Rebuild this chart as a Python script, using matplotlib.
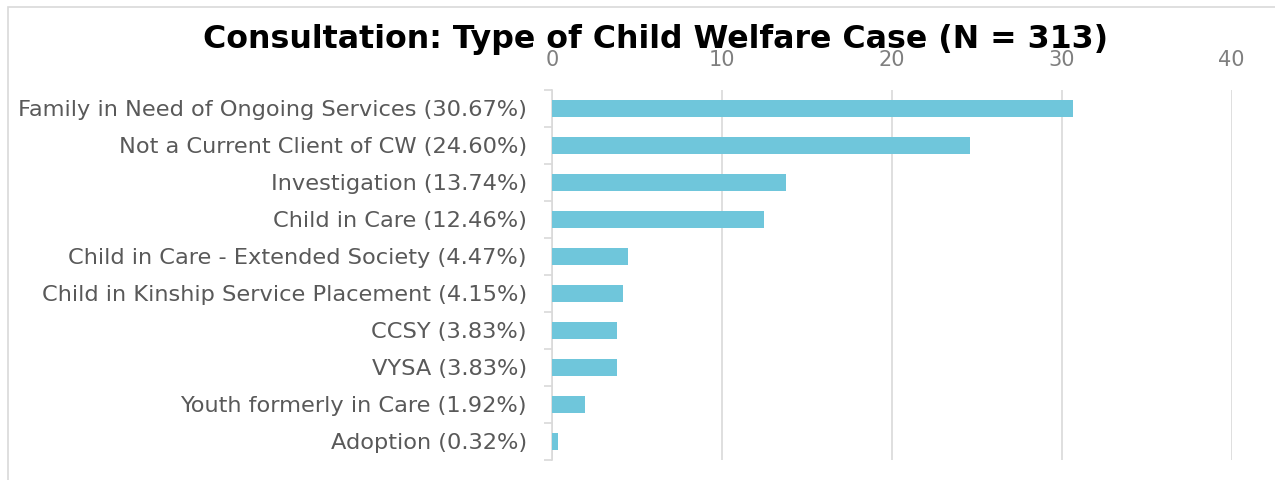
import numpy as np
import matplotlib.pyplot as plt
from matplotlib.patches import Rectangle

categories = [
    "Family in Need of Ongoing Services (30.67%)",
    "Not a Current Client of CW (24.60%)",
    "Investigation (13.74%)",
    "Child in Care (12.46%)",
    "Child in Care - Extended Society (4.47%)",
    "Child in Kinship Service Placement (4.15%)",
    "CCSY (3.83%)",
    "VYSA (3.83%)",
    "Youth formerly in Care (1.92%)",
    "Adoption (0.32%)",
]
values = [30.67, 24.60, 13.74, 12.46, 4.47, 4.15, 3.83, 3.83, 1.92, 0.32]
xticks = [0, 10, 20, 30, 40]

plt.rcParams['font.family'] = ['DejaVu Sans']

fig = plt.figure(figsize=(12.75, 4.8), dpi=100)
ax = fig.add_axes([0.433, 0.042, 0.533, 0.771])

# chart frame
fig.patches.append(Rectangle((0.006, -0.05), 1.1, 1.035, transform=fig.transFigure,
                             fill=False, edgecolor='#d9d9d9', linewidth=1.2))

y = np.arange(len(categories))
ax.barh(y, values, height=0.45, color='#6FC6DB', zorder=3)

ax.set_ylim(len(categories) - 0.5, -0.5)
ax.set_xlim(0, 40)
ax.set_xticks(xticks)
ax.xaxis.tick_top()
ax.tick_params(axis='x', length=0, labelsize=15, labelcolor='#7f7f7f', pad=14)
ax.grid(axis='x', color='#d9d9d9', linewidth=1.2, zorder=0)

ax.set_yticks(y)
ax.set_yticklabels(categories)
ax.set_yticks(np.arange(-0.5, len(categories), 1), minor=True)
ax.tick_params(axis='y', which='major', length=0, labelsize=16.2, labelcolor='#595959', pad=18)
ax.tick_params(axis='y', which='minor', length=6, color='#d9d9d9', width=1.2)

for s in ['top', 'right', 'bottom']:
    ax.spines[s].set_visible(False)
ax.spines['left'].set_color('#d9d9d9')
ax.spines['left'].set_linewidth(1.2)

fig.text(0.514, 0.918, "Consultation: Type of Child Welfare Case (N = 313)",
         ha='center', va='center', fontsize=22.8, fontweight='bold', color='black')

fig.savefig('out.png', dpi=100)
